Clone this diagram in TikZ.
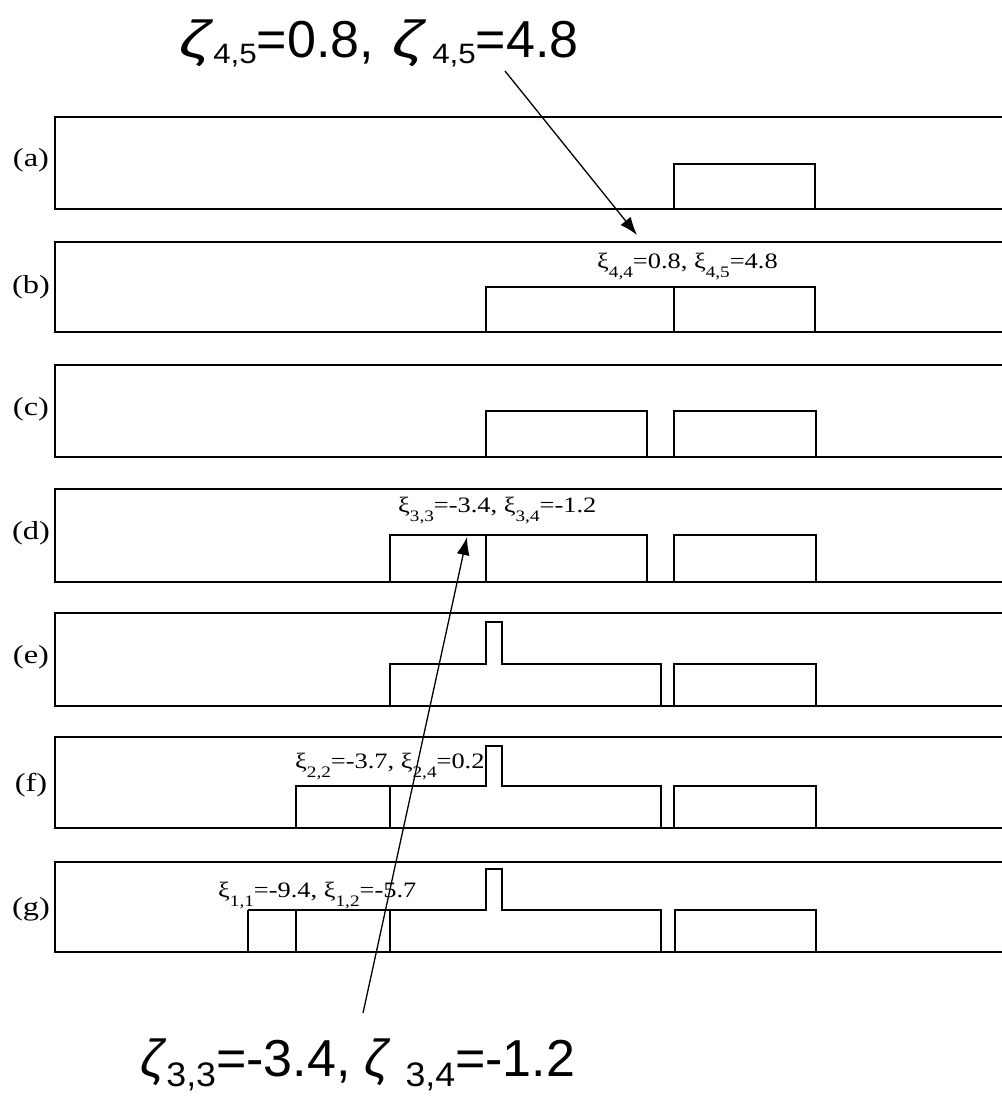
\documentclass[tikz,border=0pt]{standalone}
\usepackage{fontspec}
\setmainfont{Liberation Serif}
\newfontfamily\arialf{Liberation Sans}
\usetikzlibrary{arrows.meta}
\newcommand{\tsub}[1]{\raisebox{-6pt}[0pt][0pt]{\scalebox{1.12}[1]{\fontsize{28}{30}\selectfont #1}}}
\newcommand{\bsub}[1]{\raisebox{-10pt}[0pt][0pt]{\scalebox{1.05}[1]{\fontsize{34}{36}\selectfont #1}}}
\newcommand{\isub}[1]{\raisebox{-9pt}[0pt][0pt]{\fontsize{16}{16}\selectfont #1}}
\newcommand{\zt}{\scalebox{1.3}[1]{\textit{ζ}}}
\begin{document}
\begin{tikzpicture}[x=1pt,y=-1pt,
  frame/.style={line width=2.8pt, line join=miter},
  blk/.style={line width=2.2pt, line join=miter},
  divl/.style={line width=1.4pt},
  plab/.style={inner sep=0pt, font=\fontsize{26}{28}\selectfont},
  ilab/.style={anchor=base west, inner sep=0pt, font=\fontsize{22}{24}\selectfont},
  biglab/.style={anchor=base west, inner sep=0pt, font=\arialf\fontsize{52}{56}\selectfont},
  conn/.style={line width=1.3pt, -{Latex[length=18pt,width=13pt]}}]
\useasboundingbox (0,0) rectangle (1002,1096);
% frames
\foreach \t/\b in {117/209, 242/332, 365/457, 489/582, 613/706, 737/828, 862/952}{
  \draw[frame] (1002,\t) -- (55,\t) -- (55,\b) -- (1002,\b);
}
% panel labels
\node[plab] (la) at (31,160) {\scalebox{1.25}[1]{(a)}};
\node[plab] (lb) at (31,287) {\scalebox{1.25}[1]{(b)}};
\node[plab] (lc) at (31,409) {\scalebox{1.25}[1]{(c)}};
\node[plab] (ld) at (31,533) {\scalebox{1.25}[1]{(d)}};
\node[plab] (le) at (31,657) {\scalebox{1.25}[1]{(e)}};
\node[plab] (lf) at (31,785) {\scalebox{1.25}[1]{(f)}};
\node[plab] (lg) at (31,909) {\scalebox{1.25}[1]{(g)}};
% (a)
\draw[blk] (674,209) -- (674,164) -- (815,164) -- (815,209);
% (b)
\draw[blk] (486,332) -- (486,287) -- (815,287) -- (815,332);
\draw[divl] (674,287) -- (674,332);
% (c)
\draw[blk] (486,457) -- (486,411) -- (647,411) -- (647,457);
\draw[blk] (674,457) -- (674,411) -- (816,411) -- (816,457);
% (d)
\draw[blk] (390,582) -- (390,535) -- (647,535) -- (647,582);
\draw[blk] (486,535) -- (486,582);
\draw[blk] (674,582) -- (674,535) -- (816,535) -- (816,582);
% (e)
\draw[blk] (390,706) -- (390,664) -- (486,664) -- (486,622) -- (502,622) -- (502,664) -- (661,664) -- (661,706);
\draw[blk] (674,706) -- (674,664) -- (816,664) -- (816,706);
% (f)
\draw[blk] (296,828) -- (296,786) -- (486,786) -- (486,746) -- (502,746) -- (502,786) -- (661,786) -- (661,828);
\draw[divl] (390,786) -- (390,828);
\draw[blk] (674,828) -- (674,786) -- (816,786) -- (816,828);
% (g)
\draw[divl] (248,952) -- (248,910);
\draw[blk] (248,910) -- (486,910) -- (486,869) -- (502,869) -- (502,910) -- (661,910) -- (661,952);
\draw[divl] (296,910) -- (296,952);
\draw[divl] (390,910) -- (390,952);
\draw[blk] (675,952) -- (675,910) -- (816,910) -- (816,952);
% inner labels
\node[ilab] (tb) at (597,268) {\scalebox{1.2}[1]{ξ\isub{4,4}=0.8, ξ\isub{4,5}=4.8}};
\node[ilab] (td) at (398,512) {\scalebox{1.2}[1]{ξ\isub{3,3}=-3.4, ξ\isub{3,4}=-1.2}};
\node[ilab] (tf) at (295,768) {\scalebox{1.2}[1]{ξ\isub{2,2}=-3.7, ξ\isub{2,4}=0.2}};
\node[ilab] (tg) at (218,897) {\scalebox{1.2}[1]{ξ\isub{1,1}=-9.4, ξ\isub{1,2}=-5.7}};
% big labels
\node[biglab] (toplab) at (179,57) {\zt\tsub{4,5}=0.8,\hspace{0.35em}\zt\hspace{6pt}\tsub{4,5}=4.8};
\node[biglab] (botlab) at (140,1076) {\textit{ζ}\bsub{3,3}=-3.4, \textit{ζ} \bsub{3,4}=-1.2};
% arrows
\coordinate (a1s) at (505,71);
\coordinate (a1e) at (637,235);
\coordinate (a2s) at (363,1013);
\coordinate (a2e) at (467,537);
\draw[conn] (a1s) -- (a1e);
\draw[conn] (a2s) -- (a2e);
\end{tikzpicture}
\end{document}
